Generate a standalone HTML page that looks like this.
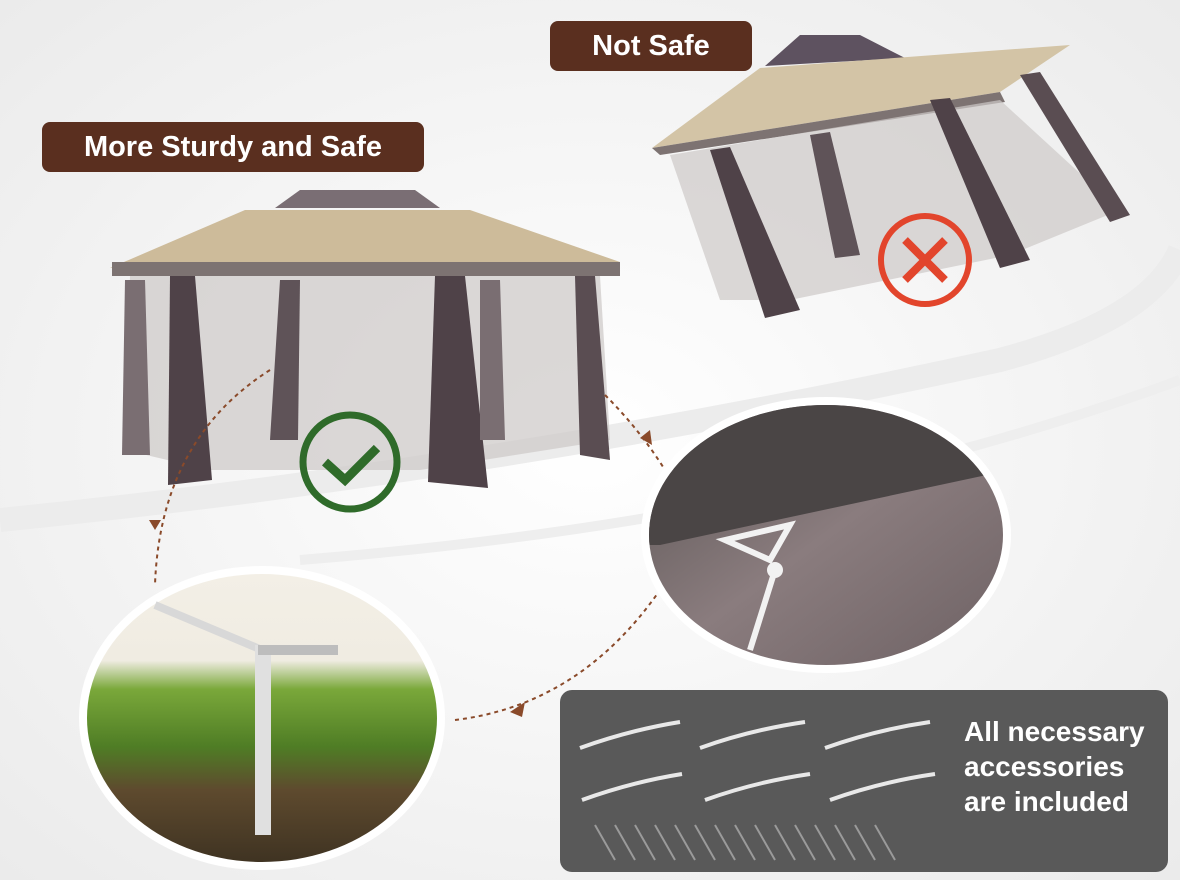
<!DOCTYPE html>
<html><head><meta charset="utf-8"><style>
html,body{margin:0;padding:0;}
body{width:1180px;height:880px;overflow:hidden;background:#f4f4f4;font-family:"Liberation Sans",sans-serif;position:relative;}
.lbl{position:absolute;background:#5a2f1f;color:#fff;border-radius:8px;font-weight:bold;text-align:center;}
</style></head><body>
<svg width="1180" height="880" style="position:absolute;left:0;top:0">
<defs>
<radialGradient id="bg" cx="0.5" cy="0.5" r="0.7"><stop offset="0" stop-color="#ffffff"/><stop offset="1" stop-color="#ebebeb"/></radialGradient>
<linearGradient id="grass" x1="0" y1="0" x2="0" y2="1"><stop offset="0" stop-color="#f3efe6"/><stop offset="0.3" stop-color="#f0ece2"/><stop offset="0.4" stop-color="#7aa83a"/><stop offset="0.6" stop-color="#4f7d25"/><stop offset="0.75" stop-color="#5e4a2e"/><stop offset="1" stop-color="#3f3322"/></linearGradient>
<linearGradient id="fab" x1="0" y1="0" x2="1" y2="1"><stop offset="0" stop-color="#5a5453"/><stop offset="0.5" stop-color="#8a7c7e"/><stop offset="1" stop-color="#6e6264"/></linearGradient>
</defs>
<rect width="1180" height="880" fill="url(#bg)"/>
<path d="M0 520 Q500 470 1000 360 Q1150 320 1180 250" stroke="#ececec" stroke-width="24" fill="none"/>
<path d="M300 560 Q800 520 1180 380" stroke="#eeeeee" stroke-width="10" fill="none"/>
<!-- left gazebo -->
<polygon points="275,208 300,190 415,190 440,208" fill="#7a6e74"/>
<polygon points="110,268 245,210 470,210 620,262" fill="#cdbb9a"/>
<rect x="112" y="262" width="508" height="14" fill="#7d7372"/>
<polygon points="130,276 600,276 610,440 420,470 210,470 125,450" fill="#cfcbca" opacity="0.75"/>
<polygon points="170,276 195,276 212,480 168,485" fill="#4f4248"/>
<polygon points="435,276 465,276 488,488 428,482" fill="#4f4248"/>
<polygon points="575,276 595,276 610,460 580,455" fill="#5a4d52"/>
<polygon points="125,280 145,280 150,455 122,455" fill="#7a6e72"/>
<polygon points="280,280 300,280 298,440 270,440" fill="#5f5358"/>
<polygon points="480,280 500,280 505,440 480,440" fill="#7a6e72"/>
<circle cx="350" cy="462" r="47" fill="none" stroke="#2f6b2a" stroke-width="7"/>
<polyline points="325,462 345,480 377,448" fill="none" stroke="#2f6b2a" stroke-width="9"/>
<!-- right gazebo -->
<polygon points="765,66 800,35 860,35 905,58" fill="#5e5260"/>
<polygon points="652,148 760,68 1070,45 1000,92" fill="#d3c4a6"/>
<polygon points="652,148 1000,92 1005,102 660,155" fill="#7d7372"/>
<polygon points="670,155 1000,100 1120,210 1010,255 790,300 720,300" fill="#cdc9c8" opacity="0.7"/>
<polygon points="710,150 730,147 800,310 765,318" fill="#4f4248"/>
<polygon points="930,100 950,98 1030,260 1000,268" fill="#4f4248"/>
<polygon points="1020,75 1040,72 1130,215 1110,222" fill="#5a4d52"/>
<polygon points="810,135 830,132 860,255 835,258" fill="#5f5358"/>
<circle cx="925" cy="260" r="44" fill="none" stroke="#e2452c" stroke-width="6"/>
<path d="M905 240 L945 280 M945 240 L905 280" stroke="#e2452c" stroke-width="8"/>
<!-- dashed connectors -->
<path d="M270 370 Q160 440 155 585" stroke="#8a4a2a" stroke-width="2" stroke-dasharray="4 4" fill="none"/>
<polygon points="149,520 161,520 155,530" fill="#8a4a2a"/>
<path d="M605 395 Q640 430 665 470" stroke="#8a4a2a" stroke-width="2" stroke-dasharray="4 4" fill="none"/>
<polygon points="640,438 650,430 652,445" fill="#8a4a2a"/>
<path d="M455 720 Q580 705 660 590" stroke="#8a4a2a" stroke-width="2" stroke-dasharray="4 4" fill="none"/>
<polygon points="510,712 525,702 522,717" fill="#8a4a2a"/>
<!-- grass circle -->
<ellipse cx="262" cy="718" rx="183" ry="152" fill="#fff"/>
<ellipse cx="262" cy="718" rx="175" ry="144" fill="url(#grass)"/>
<line x1="155" y1="605" x2="262" y2="650" stroke="#d8d8d8" stroke-width="8"/>
<rect x="255" y="645" width="16" height="190" fill="#e0e0e0"/>
<rect x="258" y="645" width="80" height="10" fill="#bdbdbd"/>
<!-- fabric circle -->
<ellipse cx="826" cy="535" rx="185" ry="138" fill="#fff"/>
<clipPath id="fc"><ellipse cx="826" cy="535" rx="177" ry="130"/></clipPath>
<ellipse cx="826" cy="535" rx="177" ry="130" fill="url(#fab)"/>
<polygon clip-path="url(#fc)" points="640,400 1010,400 1010,470 660,545 640,545" fill="#4a4545"/>
<path d="M725 540 L790 525 L770 560 Z" fill="none" stroke="#f2f2f2" stroke-width="6"/>
<line x1="775" y1="570" x2="750" y2="650" stroke="#f2f2f2" stroke-width="6"/>
<circle cx="775" cy="570" r="8" fill="#f2f2f2"/>
<!-- accessories panel -->
<rect x="560" y="690" width="608" height="182" rx="12" fill="#595959"/>
<g fill="none" stroke="#e8e8e8" stroke-width="4">
<path d="M580 748 Q630 730 680 722 M700 748 Q750 730 805 722 M825 748 Q875 730 930 722"/>
<path d="M582 800 Q632 782 682 774 M705 800 Q755 782 810 774 M830 800 Q880 782 935 774"/>
<path stroke-width="2" d="M595 825 l20 35 M615 825 l20 35 M635 825 l20 35 M655 825 l20 35 M675 825 l20 35 M695 825 l20 35 M715 825 l20 35 M735 825 l20 35 M755 825 l20 35 M775 825 l20 35 M795 825 l20 35 M815 825 l20 35 M835 825 l20 35 M855 825 l20 35 M875 825 l20 35" stroke="#9a9a9a"/>
</g>
</svg>
<div class="lbl" style="left:550px;top:21px;width:202px;height:50px;line-height:50px;font-size:29px;">Not Safe</div>
<div class="lbl" style="left:42px;top:122px;width:382px;height:50px;line-height:50px;font-size:29px;">More Sturdy and Safe</div>
<div style="position:absolute;left:964px;top:714px;color:#fff;font-size:28px;font-weight:bold;line-height:35px;">All necessary<br>accessories<br>are included</div>
</body></html>
